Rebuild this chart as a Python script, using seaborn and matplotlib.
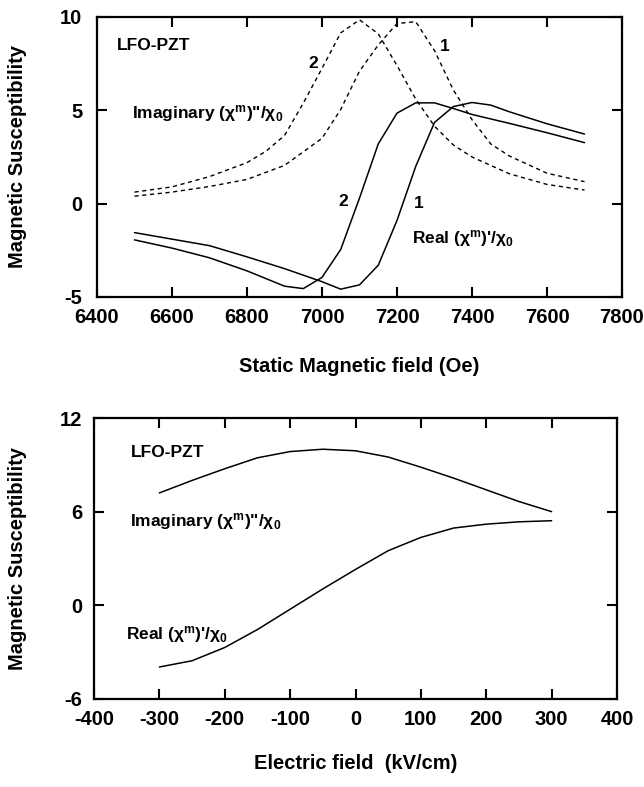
import matplotlib
matplotlib.use('Agg')
import matplotlib.pyplot as plt
import seaborn as sns

# 上图: 静磁场下的磁化率 (曲线 1 和 2)
h_imag_1 = [6500, 6600, 6700, 6800, 6900, 7000, 7050, 7100, 7150, 7200, 7250, 7300, 7350, 7400, 7450, 7500, 7600, 7700]
chi_imag_1 = [0.40, 0.62, 0.92, 1.30, 2.05, 3.50, 5.05, 7.10, 8.50, 9.65, 9.75, 8.20, 6.10, 4.50, 3.20, 2.55, 1.63, 1.18]

h_imag_2 = [6500, 6600, 6700, 6800, 6850, 6900, 6950, 7000, 7050, 7100, 7150, 7200, 7250, 7300, 7350, 7400, 7500, 7600, 7700]
chi_imag_2 = [0.62, 0.90, 1.45, 2.20, 2.80, 3.65, 5.38, 7.25, 9.15, 9.85, 9.10, 7.40, 5.60, 4.15, 3.15, 2.50, 1.60, 1.03, 0.73]

h_real_1 = [6500, 6600, 6700, 6800, 6900, 7000, 7050, 7100, 7150, 7200, 7250, 7300, 7350, 7400, 7450, 7500, 7600, 7700]
chi_real_1 = [-1.55, -1.90, -2.25, -2.85, -3.48, -4.18, -4.58, -4.35, -3.30, -0.90, 2.00, 4.35, 5.20, 5.42, 5.28, 4.92, 4.28, 3.73]

h_real_2 = [6500, 6600, 6700, 6800, 6900, 6950, 7000, 7050, 7100, 7150, 7200, 7250, 7300, 7350, 7400, 7500, 7600, 7700]
chi_real_2 = [-1.94, -2.38, -2.90, -3.60, -4.42, -4.55, -3.95, -2.45, 0.30, 3.20, 4.85, 5.40, 5.40, 5.10, 4.78, 4.30, 3.80, 3.27]

# 下图: 电场下的磁化率
e_field = [-300, -250, -200, -150, -100, -50, 0, 50, 100, 150, 200, 250, 300]
chi_imag_e = [7.20, 8.00, 8.75, 9.45, 9.85, 10.00, 9.90, 9.50, 8.85, 8.15, 7.40, 6.65, 6.00]
chi_real_e = [-3.95, -3.55, -2.70, -1.55, -0.25, 1.05, 2.30, 3.50, 4.35, 4.95, 5.20, 5.35, 5.42]

top_xticks = [6400, 6600, 6800, 7000, 7200, 7400, 7600, 7800]
top_yticks = [-5, 0, 5, 10]
bottom_xticks = [-400, -300, -200, -100, 0, 100, 200, 300, 400]
bottom_yticks = [-6, 0, 6, 12]

# 样式
sns.set_style("ticks")
plt.rcParams['font.family'] = ['Liberation Sans', 'DejaVu Sans']
plt.rcParams['font.weight'] = 'bold'
plt.rcParams['axes.labelweight'] = 'bold'
plt.rcParams['mathtext.default'] = 'regular'
plt.rcParams['axes.unicode_minus'] = False
for key in ['text.color', 'axes.labelcolor', 'xtick.color', 'ytick.color', 'axes.edgecolor']:
    plt.rcParams[key] = 'black'

imag_label = r'Imaginary ($\chi^{m}$)"/$\chi_{0}$'
real_label = r"Real ($\chi^{m}$)'/$\chi_{0}$"
dash = (0, (3.0, 2.6))

fig = plt.figure(figsize=(6.44, 7.87), dpi=100)
ax1 = fig.add_axes([97 / 644, 1 - 297 / 787, 525 / 644, 280 / 787])
ax2 = fig.add_axes([94 / 644, 1 - 699 / 787, 523 / 644, 281 / 787])

# 上图曲线
sns.lineplot(x=h_imag_1, y=chi_imag_1, ax=ax1, color='black', lw=1.0, linestyle=dash)
sns.lineplot(x=h_imag_2, y=chi_imag_2, ax=ax1, color='black', lw=1.0, linestyle=dash)
sns.lineplot(x=h_real_1, y=chi_real_1, ax=ax1, color='black', lw=1.1)
sns.lineplot(x=h_real_2, y=chi_real_2, ax=ax1, color='black', lw=1.1)

ax1.set_xlim(6400, 7800)
ax1.set_ylim(-5, 10)
ax1.set_xticks(top_xticks)
ax1.set_yticks(top_yticks)

ax1.text(6453, 8.45, 'LFO-PZT', fontsize=12.5, fontweight='bold', va='center')
ax1.text(6493, 4.55, imag_label, fontsize=12.5, fontweight='bold', va='baseline')
ax1.text(7239, -2.12, real_label, fontsize=12.5, fontweight='bold', va='baseline')
ax1.text(6977, 7.52, '2', fontsize=12.5, fontweight='bold', ha='center', va='center')
ax1.text(7328, 8.41, '1', fontsize=12.5, fontweight='bold', ha='center', va='center')
ax1.text(7057, 0.11, '2', fontsize=12.5, fontweight='bold', ha='center', va='center')
ax1.text(7257, 0.02, '1', fontsize=12.5, fontweight='bold', ha='center', va='center')

ax1.set_xlabel('Static Magnetic field (Oe)', fontsize=14.5, fontweight='bold')
ax1.set_ylabel('Magnetic Susceptibility', fontsize=14.5, fontweight='bold')
ax1.xaxis.set_label_coords(0.5, -0.214)
ax1.yaxis.set_label_coords(-0.133, 0.5)

# 下图曲线
sns.lineplot(x=e_field, y=chi_imag_e, ax=ax2, color='black', lw=1.1)
sns.lineplot(x=e_field, y=chi_real_e, ax=ax2, color='black', lw=1.1)

ax2.set_xlim(-400, 400)
ax2.set_ylim(-6, 12)
ax2.set_xticks(bottom_xticks)
ax2.set_yticks(bottom_yticks)

ax2.text(-344, 9.8, 'LFO-PZT', fontsize=12.5, fontweight='bold', va='center')
ax2.text(-345, 5.05, imag_label, fontsize=12.5, fontweight='bold', va='baseline')
ax2.text(-351, -2.15, real_label, fontsize=12.5, fontweight='bold', va='baseline')

ax2.set_xlabel('Electric field  (kV/cm)', fontsize=14.5, fontweight='bold')
ax2.set_ylabel('Magnetic Susceptibility', fontsize=14.5, fontweight='bold')
ax2.xaxis.set_label_coords(0.5, -0.196)
ax2.yaxis.set_label_coords(-0.128, 0.5)

# 坐标轴和刻度
for ax, ypad in [(ax1, 10.5), (ax2, 8.5)]:
    ax.tick_params(direction='in', length=7, width=1.5, top=True, right=True,
                   labelsize=14.5, color='black')
    ax.tick_params(axis='x', pad=8)
    ax.tick_params(axis='y', pad=ypad)
    for lab in ax.get_xticklabels() + ax.get_yticklabels():
        lab.set_fontweight('bold')
    for sp in ax.spines.values():
        sp.set_linewidth(1.6)
        sp.set_color('black')

fig.savefig('out.png', dpi=100)
